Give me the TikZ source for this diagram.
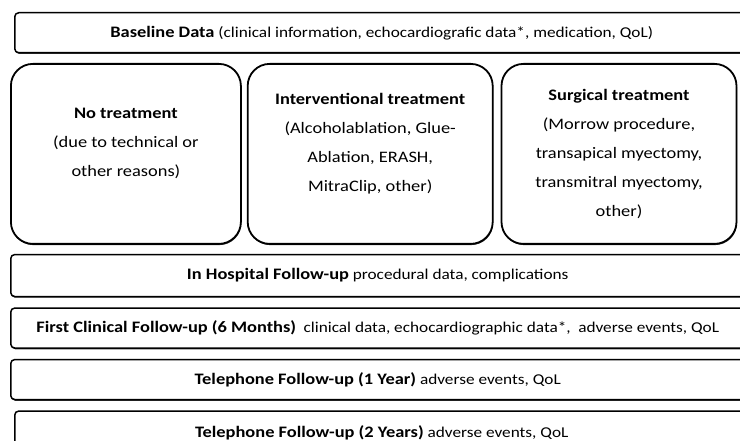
\documentclass[tikz,border=0pt]{standalone}
\usepackage{fontspec}
\setmainfont{Carlito}[FakeStretch=1.15]
\usepackage{tikz}
\usetikzlibrary{positioning,shadows}
\newcommand{\stagehead}[1]{{\fontsize{16}{18}\selectfont\bfseries #1}}

\begin{document}
\begin{tikzpicture}[
    x=1pt, y=-1pt,
    banner/.style={rectangle, draw, line width=1.5pt, rounded corners=4pt, fill=white, minimum width=734pt, minimum height=40pt, inner sep=0pt, drop shadow={shadow xshift=0.5pt, shadow yshift=-1.2pt, fill=black, opacity=0.8}, font=\fontsize{15}{18}\selectfont},
    care/.style={rectangle, draw, line width=1.8pt, rounded corners=22pt, fill=white, minimum height=180pt, align=center, inner sep=0pt, drop shadow={shadow xshift=0.5pt, shadow yshift=-1.2pt, fill=black, opacity=0.8}, font=\fontsize{16}{29}\selectfont}
]
    \clip (0,0) rectangle (740,441);
    \node[banner, anchor=north west] (baseline) at (14,12) {\stagehead{Baseline Data} (clinical information, echocardiografic data*, medication, QoL)};

    \node[care, minimum width=230pt, anchor=north west] (none) at (10,63) {\textbf{No treatment}\\(due to technical or\\other reasons)\\[-5pt]\mbox{}};
    \node[care, minimum width=245pt, right=5pt of none] (interv) {\textbf{Interventional treatment}\\(Alcoholablation, Glue-\\Ablation, ERASH,\\MitraClip, other)\\[-5pt]\mbox{}};
    \node[care, minimum width=235pt, right=7pt of interv] (surg) {\textbf{Surgical treatment}\\(Morrow procedure,\\transapical myectomy,\\transmitral myectomy,\\other)};

    \node[banner, below=9pt of none.south west, anchor=north west, minimum height=42pt] (hosp) {\stagehead{In Hospital Follow-up} procedural data, complications};
    \node[banner, below=10pt of hosp] (first) {\stagehead{First Clinical Follow-up (6 Months)}\enspace clinical data, echocardiographic data*,\enspace adverse events, QoL};
    \node[banner, below=10pt of first] (phoneone) {\stagehead{Telephone Follow-up (1 Year)} adverse events, QoL};
    \node[banner, below=10pt of phoneone, xshift=4pt, minimum height=44pt] (phonetwo) {\stagehead{Telephone Follow-up (2 Years)} adverse events, QoL};
\end{tikzpicture}
\end{document}
